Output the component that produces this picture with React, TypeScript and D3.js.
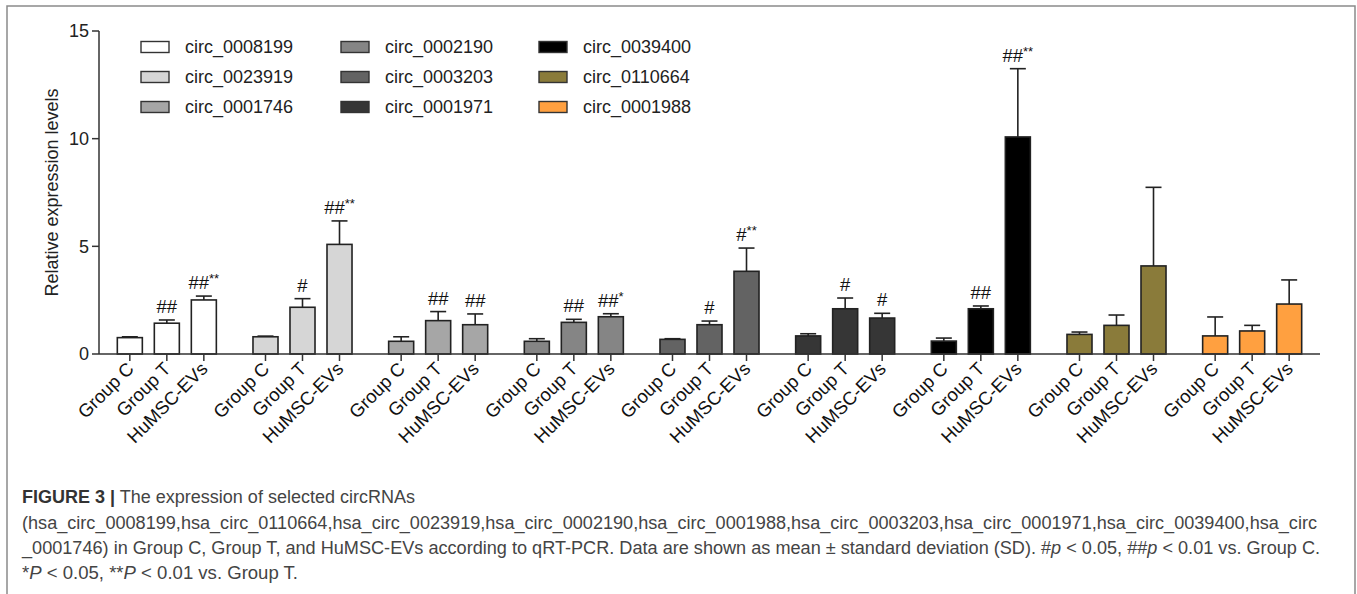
import React from "react";
import * as d3 from "d3";

const circRNAs = [
  "circ_0008199", "circ_0023919", "circ_0001746",
  "circ_0002190", "circ_0003203", "circ_0001971",
  "circ_0039400", "circ_0110664", "circ_0001988",
];
const conditions = ["Group C", "Group T", "HuMSC-EVs"];
const colors = ["#ffffff", "#d6d6d6", "#a6a6a6", "#858585", "#636363", "#363636", "#000000", "#8a7b3a", "#ffa040"];

const meanC = [0.76, 0.80, 0.59, 0.59, 0.68, 0.84, 0.60, 0.91, 0.84];
const sdC = [0.04, 0.03, 0.21, 0.12, 0.03, 0.10, 0.14, 0.11, 0.88];
const meanT = [1.43, 2.17, 1.55, 1.47, 1.36, 2.10, 2.10, 1.33, 1.07];
const sdT = [0.15, 0.40, 0.42, 0.14, 0.17, 0.50, 0.13, 0.48, 0.26];
const meanH = [2.51, 5.09, 1.36, 1.73, 3.84, 1.67, 10.08, 4.09, 2.32];
const sdH = [0.18, 1.09, 0.50, 0.14, 1.08, 0.22, 3.17, 3.65, 1.12];
const sigC = ["", "", "", "", "", "", "", "", ""];
const sigT = ["##", "#", "##", "##", "#", "#", "##", "", ""];
const sigH = ["##**", "##**", "##", "##*", "#**", "#", "##**", "", ""];

const yTicks = [0, 5, 10, 15];
const yLabel = "Relative expression levels";

const FONT = "Liberation Sans, Arial, Helvetica, sans-serif";

export default function App() {
  const W = 1357, H = 594;
  const x0 = 99, x1 = 1320, yBase = 354, yTop = 31;
  const y = d3.scaleLinear().domain([0, 15]).range([yBase, yTop]);
  const gx = d3.scaleBand<string>().domain(circRNAs).range([x0, x1]).padding(0);
  const ix = d3.scaleBand<string>().domain(conditions).range([0, gx.bandwidth()])
    .paddingInner(0.324).paddingOuter(0.495);
  const bw = ix.bandwidth();

  const means = [meanC, meanT, meanH];
  const sds = [sdC, sdT, sdH];
  const sigs = [sigC, sigT, sigH];

  const bars: any[] = [];
  circRNAs.forEach((c, gi) => {
    conditions.forEach((cond, ci) => {
      const left = (gx(c) as number) + (ix(cond) as number);
      bars.push({
        key: c + cond, gi, cond, left, cx: left + bw / 2,
        m: means[ci][gi], sd: sds[ci][gi], sig: sigs[ci][gi], color: colors[gi],
      });
    });
  });

  const legendCols = [141, 341, 539];
  const legendRows = [47, 77, 107];

  return (
    <div style={{ position: "absolute", left: 0, top: 0, width: W, height: H, background: "#fff" }}>
      <svg width={W} height={H} style={{ display: "block" }} fontFamily={FONT}>
        <rect x={7} y={6} width={1348} height={620} fill="none" stroke="#8a8a8a" strokeWidth={1.5} />

        {/* y axis */}
        <line x1={x0} x2={x0} y1={y(15)} y2={yBase} stroke="#333" strokeWidth={1.5} />
        {yTicks.map((t) => (
          <g key={t}>
            <line x1={x0 - 7} x2={x0} y1={y(t)} y2={y(t)} stroke="#333" strokeWidth={1.5} />
            <text x={x0 - 10} y={y(t)} dy="0.36em" textAnchor="end" fontSize={18} fill="#222">{t}</text>
          </g>
        ))}
        <text transform={`translate(52,${(yTop + yBase) / 2}) rotate(-90)`} textAnchor="middle" dy="0.35em" fontSize={18} fill="#222">{yLabel}</text>

        {/* bars */}
        {bars.map((b) => (
          <g key={b.key}>
            <line x1={b.cx} x2={b.cx} y1={y(b.m)} y2={y(b.m + b.sd)} stroke="#222" strokeWidth={1.6} />
            <line x1={b.cx - 8} x2={b.cx + 8} y1={y(b.m + b.sd)} y2={y(b.m + b.sd)} stroke="#222" strokeWidth={1.6} />
            <rect x={b.left} y={y(b.m)} width={bw} height={yBase - y(b.m)} fill={b.color} stroke="#222" strokeWidth={1.6} />
            {b.sig && (
              <text x={b.cx} y={y(b.m + b.sd) - 7} textAnchor="middle" fontSize={18.5} fill="#111">
                <tspan>{b.sig.replace(/\*+$/, "")}</tspan>
                {/\*/.test(b.sig) && <tspan fontSize={13} dy={-6}>{b.sig.match(/\*+$/)![0]}</tspan>}
              </text>
            )}
          </g>
        ))}

        {/* x axis */}
        <line x1={x0} x2={x1} y1={yBase} y2={yBase} stroke="#333" strokeWidth={1.5} />
        {bars.map((b) => (
          <g key={"t" + b.key}>
            <line x1={b.cx} x2={b.cx} y1={yBase} y2={yBase + 7} stroke="#333" strokeWidth={1.5} />
            <text transform={`translate(${b.cx + 5},${yBase + 16}) rotate(-45)`} textAnchor="end" fontSize={18.5} fill="#111">{b.cond}</text>
          </g>
        ))}

        {/* legend */}
        {circRNAs.map((c, i) => {
          const col = Math.floor(i / 3), row = i % 3;
          const lx = legendCols[col], ly = legendRows[row];
          return (
            <g key={"lg" + c}>
              <rect x={lx} y={ly - 5.5} width={28} height={11} fill={colors[i]} stroke="#333" strokeWidth={1.4} />
              <text x={lx + 44} y={ly} dy="0.36em" fontSize={18} fill="#222">{c}</text>
            </g>
          );
        })}

        {/* caption */}
        <g fontSize={17.5} fill="#444">
          <text x={22} y={503} textLength={393} lengthAdjust="spacingAndGlyphs">
            <tspan fontWeight="bold" fill="#333">FIGURE 3 |</tspan>
            <tspan> The expression of selected circRNAs</tspan>
          </text>
          <text x={22} y={529} textLength={1295} lengthAdjust="spacingAndGlyphs">
            (hsa_circ_0008199,hsa_circ_0110664,hsa_circ_0023919,hsa_circ_0002190,hsa_circ_0001988,hsa_circ_0003203,hsa_circ_0001971,hsa_circ_0039400,hsa_circ
          </text>
          <text x={22} y={554} textLength={1298} lengthAdjust="spacingAndGlyphs">
            <tspan>_0001746) in Group C, Group T, and HuMSC-EVs according to qRT-PCR. Data are shown as mean ± standard deviation (SD). #</tspan>
            <tspan fontStyle="italic">p</tspan>
            <tspan> &lt; 0.05, ##</tspan>
            <tspan fontStyle="italic">p</tspan>
            <tspan> &lt; 0.01 vs. Group C.</tspan>
          </text>
          <text x={22} y={579} textLength={276} lengthAdjust="spacingAndGlyphs">
            <tspan>*</tspan>
            <tspan fontStyle="italic">P</tspan>
            <tspan> &lt; 0.05, **</tspan>
            <tspan fontStyle="italic">P</tspan>
            <tspan> &lt; 0.01 vs. Group T.</tspan>
          </text>
        </g>
      </svg>
    </div>
  );
}
